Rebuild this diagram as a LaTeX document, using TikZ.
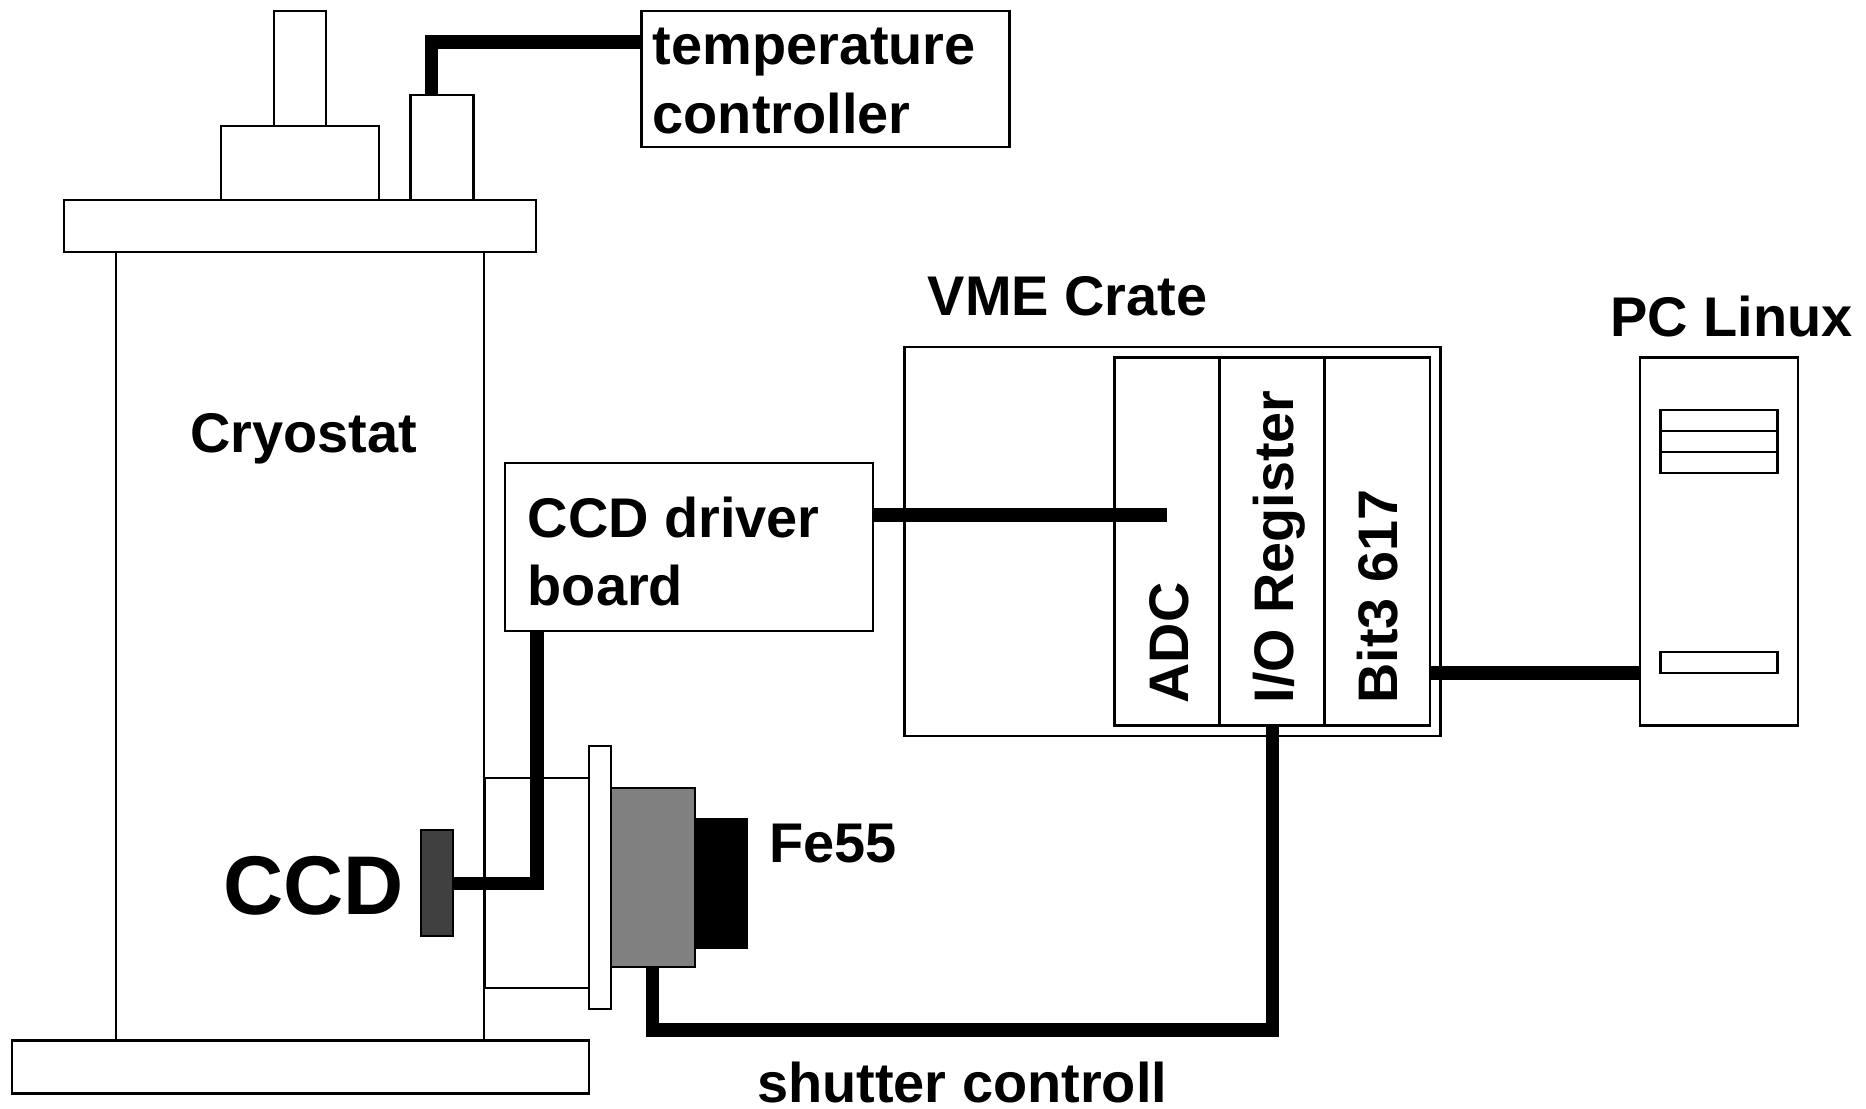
\documentclass[tikz,border=0pt]{standalone}
\usepackage{fontspec}
\setmainfont{Liberation Sans}
\usetikzlibrary{positioning}
\definecolor{ccdgray}{HTML}{404040}
\definecolor{shuttergray}{HTML}{808080}
\tikzset{box/.style={        % Thin outlined parts
           draw,
           line width=.6pt,
           fill=white,
           inner sep=0pt,
           outer sep=0pt},
         size/.style 2 args={minimum width=#1*.01cm, minimum height=#2*.01cm},
         wire/.style={        % Heavy cables
           draw,
           line width=3.9pt},
         lbl/.style={
           inner sep=0pt,
           align=left,
           font=\fontsize{15.9}{19.6}\selectfont\bfseries},
         slot/.style={lbl, rotate=90, anchor=base west,
           font=\fontsize{15.85}{18}\selectfont\bfseries}}

\begin{document}
\begin{tikzpicture}[x=.01cm, y=-.01cm]
\useasboundingbox (0,0) rectangle (1866,1108);

% Cryostat
\node[box, size={52}{115}] (knob) at (300,68.5) {};
\node[box, size={157.5}{74}] (neck) at (300,163) {};
\node[box, size={63}{105}] (sensor) at (442,147.5) {};
\node[box, size={472}{52}] (flange) at (300,226) {};
\node[box, size={367.5}{789}] (body) at (300,646.5) {};
\node[box, size={577}{53}] (base) at (300.5,1067) {};
\node[box, size={105}{210}] (port) at (537,883) {};

% Source
\node[box, size={21.3}{263}] (plate) at (600,877.5) {};
\node[box, fill=shuttergray, size={84}{179}] (shutter) at (652.6,877.5) {};
\node[box, fill=black, size={52.5}{128}] (source) at (720.8,883.5) {};
\node[box, fill=ccdgray, size={32}{106}] (ccd) at (437,883) {};

% Readout
\node[box, size={368}{136}] (tempctrl) at (825.5,79) {};
\node[box, size={367.5}{168}] (driver) at (689,547) {};
\node[box, size={536}{389}] (crate) at (1172.5,541.5) {};
\node[box, size={105}{368}] (adc) at (1167,541.5) {};
\node[box, size={105}{368}] (ioreg) at (1272,541.5) {};
\node[box, size={105.5}{368}] (bit3) at (1377.3,541.5) {};
\node[box, size={158}{368}] (pc) at (1718.7,541.5) {};
\node[box, size={117}{63}] (drives) at (1719,441.5) {};
\node[box, size={117}{21}] (drivemid) at (1719,441.5) {};
\node[box, size={117}{21.6}] (pcslot) at (1719,662.5) {};

% Cables
\coordinate (sensorin) at (431.5,95);
\coordinate (tempout) at (641,42);
\coordinate (ccdout) at (453,883.5);
\coordinate (driverin) at (537,631);
\coordinate (driverout) at (872,515);
\coordinate (adcin) at (1166.8,515);
\coordinate (bit3out) at (1430,673);
\coordinate (pcin) at (1639.7,673);
\coordinate (shutterin) at (652.5,967);
\coordinate (ioregin) at (1272.5,725);

\draw[wire] (tempout) -| (sensorin);
\draw[wire] (ccdout) -| (driverin);
\draw[wire] (driverout) -- (adcin);
\draw[wire] (bit3out) -- (pcin);
\draw[wire] (shutterin) |- (900,1030) -| (ioregin);

% Labels
\node[lbl, anchor=west] (templabel) at (652,81) {temperature\\controller};
\node[lbl, anchor=west] (driverlabel) at (527,551.5) {CCD driver\\board};
\node[lbl, anchor=base west] (cryolabel) at (189.5,452) {Cryostat};
\node[lbl, anchor=base west, font=\fontsize{23.7}{28}\selectfont\bfseries] (ccdlabel) at (222.5,914) {CCD};
\node[lbl, anchor=base west] (felabel) at (768.5,862.5) {Fe55};
\node[lbl, anchor=base west] (shutterlabel) at (756.5,1102) {shutter controll};
\node[lbl, anchor=base west] (cratelabel) at (927,315) {VME Crate};
\node[lbl, anchor=base west] (pclabel) at (1609.5,336) {PC Linux};
\node[slot] (adclabel) at (1188,704) {ADC};
\node[slot] (iolabel) at (1293,704) {I/O Register};
\node[slot] (bitlabel) at (1397.6,704) {Bit3 617};
\end{tikzpicture}
\end{document}
